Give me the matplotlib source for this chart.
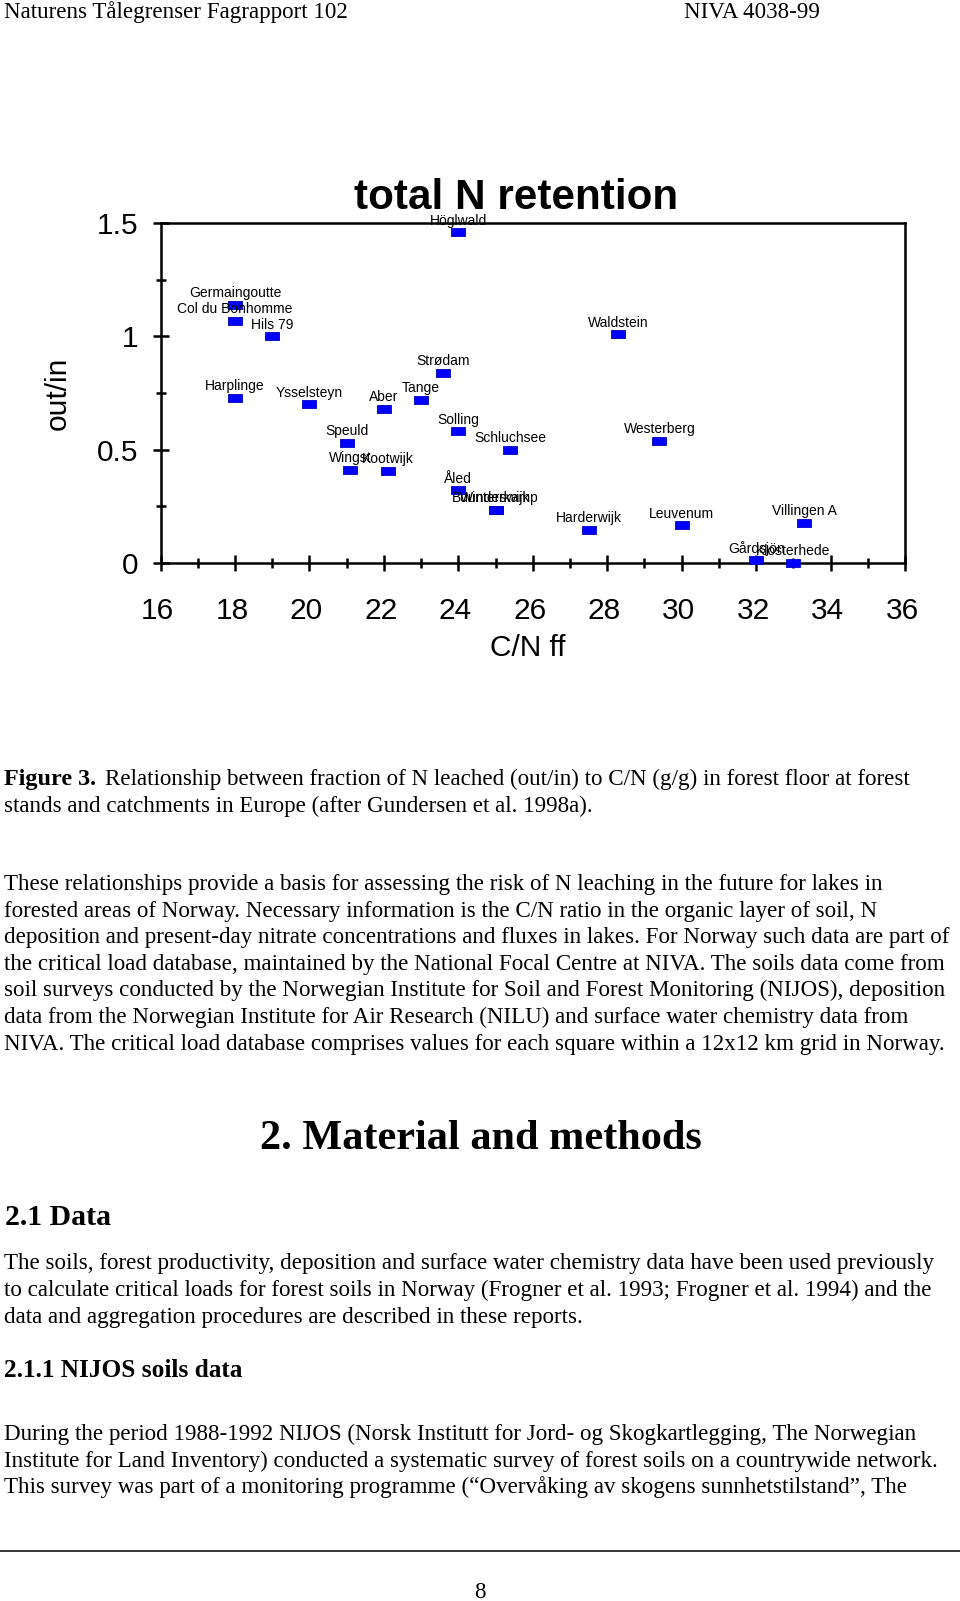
import matplotlib.pyplot as plt
from matplotlib.ticker import FixedLocator, FixedFormatter, MultipleLocator
from matplotlib.transforms import ScaledTranslation

# Data
sites = ["Höglwald", "Germaingoutte", "Col du Bonhomme", "Hils 79", "Strødam",
         "Harplinge", "Ysselsteyn", "Aber", "Tange", "Solling", "Schluchsee",
         "Speuld", "Wingst", "Kootwijk", "Waldstein", "Westerberg", "Åled",
         "Buunderkamp", "Winterswijk", "Harderwijk", "Leuvenum", "Villingen A",
         "Gårdsjön", "Klosterhede"]
cn_ff = [24.0, 18.0, 18.0, 19.0, 23.6,
         18.0, 20.0, 22.0, 23.0, 24.0, 25.4,
         21.0, 21.1, 22.1, 28.3, 29.4, 24.0,
         25.0, 25.0, 27.5, 30.0, 33.3,
         32.0, 33.0]
out_in = [1.46, 1.14, 1.07, 1.00, 0.84,
          0.73, 0.70, 0.68, 0.72, 0.58, 0.50,
          0.53, 0.41, 0.405, 1.01, 0.54, 0.32,
          0.235, 0.235, 0.145, 0.165, 0.175,
          0.01, 0.0]

x_ticks = [16, 18, 20, 22, 24, 26, 28, 30, 32, 34, 36]
y_ticks = [0, 0.5, 1, 1.5]
y_ticklabels = ["0", "0.5", "1", "1.5"]

caption_lines = [
    "Relationship between fraction of N leached (out/in) to C/N (g/g) in forest floor at forest",
    "stands and catchments in Europe (after Gundersen et al. 1998a).",
]
para1 = [
    "These relationships provide a basis for assessing the risk of N leaching in the future for lakes in",
    "forested areas of Norway. Necessary information is the C/N ratio in the organic layer of soil, N",
    "deposition and present-day nitrate concentrations and fluxes in lakes. For Norway such data are part of",
    "the critical load database, maintained by the National Focal Centre at NIVA. The soils data come from",
    "soil surveys conducted by the Norwegian Institute for Soil and Forest Monitoring (NIJOS), deposition",
    "data from the Norwegian Institute for Air Research (NILU) and surface water chemistry data from",
    "NIVA. The critical load database comprises values for each square within a 12x12 km grid in Norway.",
]
para2 = [
    "The soils, forest productivity, deposition and surface water chemistry data have been used previously",
    "to calculate critical loads for forest soils in Norway (Frogner et al. 1993; Frogner et al. 1994) and the",
    "data and aggregation procedures are described in these reports.",
]
para3 = [
    "During the period 1988-1992 NIJOS (Norsk Institutt for Jord- og Skogkartlegging, The Norwegian",
    "Institute for Land Inventory) conducted a systematic survey of forest soils on a countrywide network.",
    "This survey was part of a monitoring programme (\u201cOvervåking av skogens sunnhetstilstand\u201d, The",
]

W, H = 960, 1601
fig = plt.figure(figsize=(W / 100, H / 100), dpi=100)
sans = "Liberation Sans"
serif = "Liberation Serif"


def fy(py):
    return 1 - py / H


def fx(px):
    return px / W


# Chart
ax = fig.add_axes([fx(160.5), fy(562.7), (905 - 160.5) / W, (562.7 - 223.3) / H])
rect = [(-0.5, -0.31), (0.5, -0.31), (0.5, 0.31), (-0.5, 0.31), (-0.5, -0.31)]
ax.plot(cn_ff, out_in, linestyle="none", marker=rect, markersize=10,
        color="#0000ff", markeredgecolor="#0000c0", markeredgewidth=0.6,
        clip_on=False, zorder=5)
for name, x, y in zip(sites, cn_ff, out_in):
    ax.annotate(name, (x, y), xytext=(0, 5.5), textcoords="offset points",
                ha="center", va="baseline", fontsize=10, family=sans,
                annotation_clip=False, zorder=6)

ax.set_xlim(16, 36)
ax.set_ylim(0, 1.5)
ax.xaxis.set_major_locator(FixedLocator(x_ticks))
ax.xaxis.set_minor_locator(MultipleLocator(1))
ax.yaxis.set_major_locator(FixedLocator(y_ticks))
ax.yaxis.set_major_formatter(FixedFormatter(y_ticklabels))
ax.yaxis.set_minor_locator(MultipleLocator(0.25))
ax.tick_params(which="major", direction="inout", length=11, width=1.8,
               labelsize=21.5, top=False, right=False)
ax.tick_params(which="minor", direction="inout", length=6.5, width=1.8,
               top=False, right=False)
ax.tick_params(axis="x", which="major", pad=19)
ax.tick_params(axis="y", which="major", pad=10.4)
shift = ScaledTranslation(-3 / 100, 0, fig.dpi_scale_trans)
for lab in ax.get_xticklabels():
    lab.set_family(sans)
    lab.set_transform(lab.get_transform() + shift)
for lab in ax.get_yticklabels():
    lab.set_family(sans)
for sp in ax.spines.values():
    sp.set_linewidth(1.8)

fig.text(fx(516), fy(209), "total N retention", ha="center", va="baseline",
         fontsize=30.4, fontweight="bold", family=sans)
fig.text(fx(57.5), fy(393.5), "out/in", rotation=90, ha="center", va="center",
         fontsize=21.5, family=sans)
fig.text(fx(528), fy(648), "C/N ff", ha="center", va="center",
         fontsize=21.5, family=sans)

# Page text
body = 16.6
fig.text(fx(4), fy(18), "Naturens Tålegrenser Fagrapport 102", fontsize=body,
         family=serif, va="baseline")
fig.text(fx(684), fy(18), "NIVA 4038-99", fontsize=body, family=serif, va="baseline")

fig.text(fx(4), fy(785), "Figure 3.", fontsize=17.4, family=serif,
         fontweight="bold", va="baseline")
fig.text(fx(105), fy(785), caption_lines[0], fontsize=body, family=serif, va="baseline")
fig.text(fx(4), fy(811.7), caption_lines[1], fontsize=body, family=serif, va="baseline")

step = 26.6
for i, line in enumerate(para1):
    fig.text(fx(4), fy(890 + i * step), line, fontsize=body, family=serif, va="baseline")

fig.text(fx(260), fy(1149.3), "2. Material and methods", fontsize=30.4,
         fontweight="bold", family=serif, va="baseline")
fig.text(fx(5), fy(1225), "2.1 Data", fontsize=21.4, fontweight="bold",
         family=serif, va="baseline")
for i, line in enumerate(para2):
    fig.text(fx(4), fy(1269.3 + i * step), line, fontsize=body, family=serif, va="baseline")

fig.text(fx(4), fy(1376.7), "2.1.1 NIJOS soils data", fontsize=18.2,
         fontweight="bold", family=serif, va="baseline")
for i, line in enumerate(para3):
    fig.text(fx(4), fy(1440 + i * step), line, fontsize=body, family=serif, va="baseline")

fig.add_artist(plt.Line2D([0, 1], [fy(1551), fy(1551)], color="black", linewidth=1.1))
fig.text(fx(480), fy(1598), "8", fontsize=body, family=serif, ha="center", va="baseline")

fig.savefig("out.png", dpi=100)
